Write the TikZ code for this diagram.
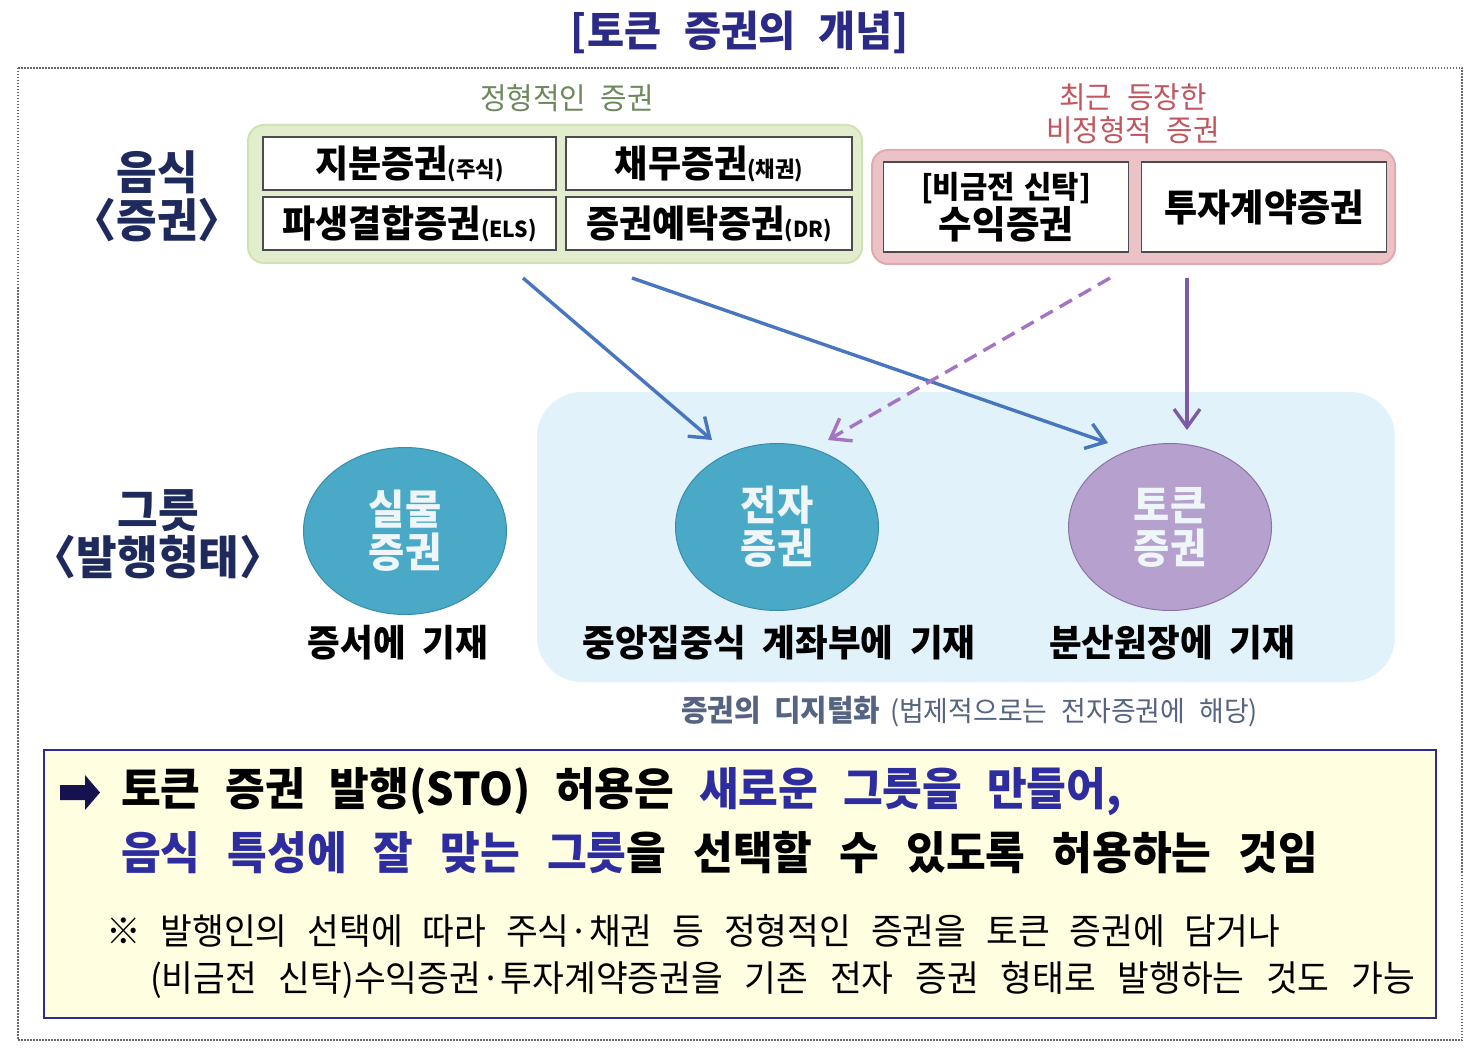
\documentclass[tikz,border=0pt]{standalone}
\usepackage{fontspec}
\usetikzlibrary{arrows.meta,shapes.geometric}
\newfontfamily\hd[FakeStretch=0.96]{Noto Sans CJK KR}
\newcommand\fsz[2]{\fontsize{#1}{#2}\selectfont}
\newcommand\wsp[1]{\spaceskip #1\relax}
\newcommand\lbr{\makebox[0.62em][r]{〈}}
\newcommand\rbr{\makebox[0.62em][l]{〉}}
\definecolor{titlenavy}{RGB}{43,42,135}
\definecolor{labnavy}{RGB}{30,42,92}
\definecolor{greenfill}{RGB}{226,237,206}
\definecolor{greenedge}{RGB}{208,225,180}
\definecolor{greenlab}{RGB}{108,136,92}
\definecolor{pinkfill}{RGB}{235,195,199}
\definecolor{pinkedge}{RGB}{225,170,176}
\definecolor{pinklab}{RGB}{192,86,96}
\definecolor{bluezone}{RGB}{225,242,250}
\definecolor{tealc}{RGB}{74,169,199}
\definecolor{tealb}{RGB}{58,140,172}
\definecolor{lilac}{RGB}{182,160,205}
\definecolor{lilacb}{RGB}{140,115,165}
\definecolor{arrblue}{RGB}{72,118,190}
\definecolor{arrpurple}{RGB}{125,90,165}
\definecolor{arrdash}{RGB}{165,115,195}
\definecolor{digi}{RGB}{85,100,128}
\definecolor{noteyellow}{RGB}{255,254,224}
\definecolor{notenavy}{RGB}{46,44,140}
\definecolor{hlblue}{RGB}{45,45,160}
\definecolor{circtext}{RGB}{238,246,250}
\definecolor{arrowsym}{RGB}{22,18,80}
\begin{document}
\begin{tikzpicture}[x=1pt,y=-1pt,
  framedot/.style={draw=gray!80!black,line width=1.4pt,dash pattern=on 1.5pt off 1.5pt},
  groupA/.style={draw=greenedge,line width=2pt,fill=greenfill,rounded corners=16pt,minimum width=614pt,minimum height=138pt,inner sep=0pt},
  groupB/.style={draw=pinkedge,line width=2pt,fill=pinkfill,rounded corners=16pt,minimum width=523pt,minimum height=114pt,inner sep=0pt},
  secbox/.style={draw=black!70,line width=1.3pt,fill=white,minimum height=53pt,inner sep=0pt,font=\hd\bfseries\fsz{37.5}{40}},
  zone/.style={fill=bluezone,rounded corners=45pt,minimum width=858pt,minimum height=290pt,inner sep=0pt},
  vessel/.style={ellipse,minimum width=203pt,minimum height=167pt,inner sep=0pt,line width=1pt,align=center,
     text=circtext,font=\hd\bfseries\fsz{41}{43}},
  bigleft/.style={text=labnavy,align=center,inner sep=0pt},
  under/.style={font=\hd\bfseries\fsz{37}{40}\wsp{0.45em},inner sep=0pt},
  tipv/.style={-{Straight Barb[length=18pt,width=26pt,line width=3.4pt]}},
  arrb/.style={draw=arrblue,line width=3.4pt,tipv},
  arrp/.style={draw=arrpurple,line width=3.4pt,tipv},
  arrd/.style={draw=arrdash,line width=3.4pt,dash pattern=on 14pt off 8pt,tipv},
  notebig/.style={anchor=west,inner sep=0pt,font=\hd\bfseries\fsz{45}{50}\wsp{0.55em}},
  notesmall/.style={anchor=west,inner sep=0pt,font=\hd\fsz{36}{40}}
]
\useasboundingbox (0,0) rectangle (1482,1056);
\fill[white] (0,0) rectangle (1482,1056);

% title
\node[inner sep=0pt,text=titlenavy,font=\hd\bfseries\fsz{42}{46}\wsp{0.55em}] (title) at (740,32) {[토큰 증권의 개념]};

% frame
\draw[framedot] (18,68) rectangle (1462,1040);

% left labels
\node[bigleft,font=\hd\bfseries\fsz{46}{48}] (food) at (157,196) {음식\\\lbr 증권\rbr};
\node[bigleft,font=\hd\bfseries\fsz{46}{47}] (vesselLab) at (158,534) {그릇\\\lbr 발행형태\rbr};

% group labels
\node[inner sep=0pt,text=greenlab,font=\hd\fsz{30}{32}\wsp{0.5em}] (labFixed) at (567,98) {정형적인 증권};
\node[inner sep=0pt,text=pinklab,align=center,font=\hd\fsz{30}{33}\wsp{0.5em}] (labNew) at (1133,114) {최근 등장한\\비정형적 증권};

% green group
\node[groupA] (grpA) at (555,194) {};
\node[secbox,minimum width=293pt] (bxStock) at (409.5,163.5) {지분증권{\fsz{22}{24}(주식)}};
\node[secbox,minimum width=286pt] (bxBond) at (709,163.5) {채무증권{\fsz{22}{24}(채권)}};
\node[secbox,minimum width=293pt] (bxELS) at (409.5,223.5) {파생결합증권{\fsz{22}{24}(ELS)}};
\node[secbox,minimum width=286pt] (bxDR) at (709,223.5) {증권예탁증권{\fsz{22}{24}(DR)}};

% pink group
\node[groupB] (grpB) at (1133.5,207) {};
\node[secbox,minimum width=245pt,minimum height=90pt,align=center] (bxTrust) at (1006,207) {{\fsz{31}{37}\wsp{0.3em}[비금전 신탁]}\\{\fsz{38}{37}수익증권}};
\node[secbox,minimum width=245pt,minimum height=90pt] (bxInv) at (1264,207) {투자계약증권};

% blue zone
\node[zone] (zone) at (966,537) {};

% vessels
\node[vessel,fill=tealc,draw=tealb] (cPaper) at (405,531) {실물\\증권};
\node[vessel,fill=tealc,draw=tealb] (cElec) at (777,527) {전자\\증권};
\node[vessel,fill=lilac,draw=lilacb] (cToken) at (1170,527) {토큰\\증권};

% under labels
\node[under] (uPaper) at (398,643) {증서에 기재};
\node[under] (uElec) at (779,643) {중앙집중식 계좌부에 기재};
\node[under] (uToken) at (1172,643) {분산원장에 기재};

% digitization caption
\node[anchor=west,inner sep=0pt,text=digi] (digi) at (681,712)
  {{\hd\bfseries\fsz{30}{34}\wsp{0.45em}증권의 디지털화}\hspace{10pt}{\hd\fsz{28}{28}\wsp{0.5em}(법제적으로는 전자증권에 해당)}};

% arrows
\coordinate (a1s) at (523,278); \coordinate (a1e) at (712,440);
\coordinate (a2s) at (632,278); \coordinate (a2e) at (1108,443);
\coordinate (a3s) at (1110,278); \coordinate (a3e) at (828,440);
\coordinate (a4s) at (1187,278); \coordinate (a4e) at (1187,430);
\draw[arrb] (a1s) -- (a1e);
\draw[arrb] (a2s) -- (a2e);
\draw[arrd] (a3s) -- (a3e);
\draw[arrp] (a4s) -- (a4e);

% note box
\node[draw=notenavy,line width=2pt,fill=noteyellow,minimum width=1392pt,minimum height=268pt,inner sep=0pt] (note) at (740,884) {};
\fill[arrowsym] (60,785) -- (85,785) -- (85,775) -- (100,792.5) -- (85,810) -- (85,800) -- (60,800) -- cycle;
\node[notebig] (n1) at (121,792) {토큰 증권 발행(STO) 허용은 \textcolor{hlblue}{새로운 그릇을 만들어,}};
\node[notebig,font=\hd\bfseries\fsz{45}{50}\wsp{0.6em}] (n2) at (121,853) {\textcolor{hlblue}{음식 특성에 잘 맞는 그릇}을 선택할 수 있도록 허용하는 것임};
\node[notesmall,font=\hd\fsz{36}{40}\wsp{0.55em}] (n3) at (106,931) {※ 발행인의 선택에 따라 주식·채권 등 정형적인 증권을 토큰 증권에 담거나};
\node[notesmall,font=\hd\fsz{36}{40}\wsp{0.6em}] (n4) at (150,980) {(비금전 신탁)수익증권·투자계약증권을 기존 전자 증권 형태로 발행하는 것도 가능};
\end{tikzpicture}
\end{document}
